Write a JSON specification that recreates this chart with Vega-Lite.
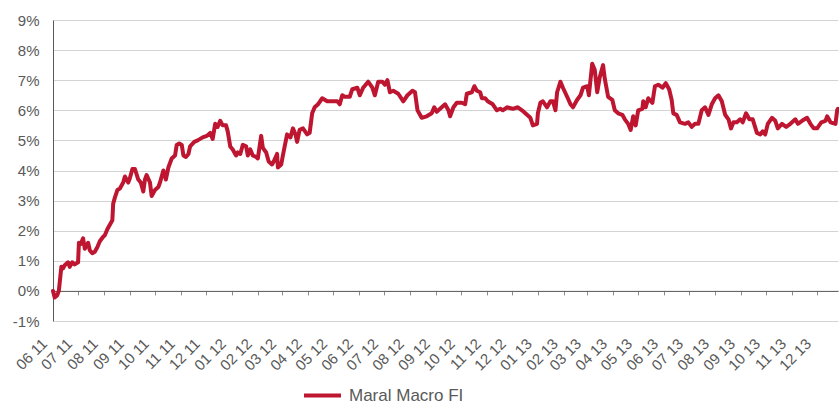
{
  "$schema": "https://vega.github.io/schema/vega-lite/v6.json",
  "autosize": "none",
  "width": 785,
  "height": 301,
  "padding": {"left": 53, "top": 20, "right": 1, "bottom": 82},
  "background": "white",
  "config": {
    "view": {"stroke": null},
    "font": "Liberation Sans"
  },
  "data": {
    "values": [
      {"date": "2011-06-01", "v": 0.0},
      {"date": "2011-06-03", "v": -0.22},
      {"date": "2011-06-06", "v": -0.15},
      {"date": "2011-06-08", "v": 0.0},
      {"date": "2011-06-11", "v": 0.8},
      {"date": "2011-06-13", "v": 0.75},
      {"date": "2011-06-15", "v": 0.85},
      {"date": "2011-06-19", "v": 0.95},
      {"date": "2011-06-21", "v": 0.8},
      {"date": "2011-06-24", "v": 0.95},
      {"date": "2011-06-27", "v": 0.88},
      {"date": "2011-07-01", "v": 0.95},
      {"date": "2011-07-02", "v": 1.6},
      {"date": "2011-07-04", "v": 1.55},
      {"date": "2011-07-07", "v": 1.75},
      {"date": "2011-07-09", "v": 1.4},
      {"date": "2011-07-13", "v": 1.6},
      {"date": "2011-07-15", "v": 1.35},
      {"date": "2011-07-18", "v": 1.25},
      {"date": "2011-07-21", "v": 1.3},
      {"date": "2011-07-24", "v": 1.45},
      {"date": "2011-07-27", "v": 1.65},
      {"date": "2011-07-31", "v": 1.8},
      {"date": "2011-08-02", "v": 1.85},
      {"date": "2011-08-05", "v": 2.05},
      {"date": "2011-08-08", "v": 2.2},
      {"date": "2011-08-11", "v": 2.35},
      {"date": "2011-08-12", "v": 2.9},
      {"date": "2011-08-14", "v": 3.1},
      {"date": "2011-08-17", "v": 3.35},
      {"date": "2011-08-20", "v": 3.4},
      {"date": "2011-08-24", "v": 3.6},
      {"date": "2011-08-26", "v": 3.8},
      {"date": "2011-08-30", "v": 3.6},
      {"date": "2011-09-01", "v": 3.75},
      {"date": "2011-09-04", "v": 4.05},
      {"date": "2011-09-07", "v": 4.05},
      {"date": "2011-09-11", "v": 3.7},
      {"date": "2011-09-14", "v": 3.6},
      {"date": "2011-09-17", "v": 3.3},
      {"date": "2011-09-19", "v": 3.7},
      {"date": "2011-09-21", "v": 3.85},
      {"date": "2011-09-25", "v": 3.6},
      {"date": "2011-09-27", "v": 3.15},
      {"date": "2011-10-01", "v": 3.35},
      {"date": "2011-10-05", "v": 3.45},
      {"date": "2011-10-07", "v": 3.6},
      {"date": "2011-10-11", "v": 4.0},
      {"date": "2011-10-14", "v": 3.7},
      {"date": "2011-10-17", "v": 4.1},
      {"date": "2011-10-21", "v": 4.4},
      {"date": "2011-10-25", "v": 4.5},
      {"date": "2011-10-27", "v": 4.85},
      {"date": "2011-10-30", "v": 4.9},
      {"date": "2011-11-02", "v": 4.85},
      {"date": "2011-11-04", "v": 4.5},
      {"date": "2011-11-07", "v": 4.45},
      {"date": "2011-11-10", "v": 4.55},
      {"date": "2011-11-12", "v": 4.8},
      {"date": "2011-11-17", "v": 4.95},
      {"date": "2011-11-21", "v": 5.0},
      {"date": "2011-11-27", "v": 5.1},
      {"date": "2011-12-02", "v": 5.15},
      {"date": "2011-12-06", "v": 5.25},
      {"date": "2011-12-09", "v": 5.05},
      {"date": "2011-12-12", "v": 5.55},
      {"date": "2011-12-15", "v": 5.45},
      {"date": "2011-12-18", "v": 5.65},
      {"date": "2011-12-21", "v": 5.5},
      {"date": "2011-12-25", "v": 5.5},
      {"date": "2011-12-27", "v": 5.3},
      {"date": "2011-12-30", "v": 4.8},
      {"date": "2012-01-02", "v": 4.7},
      {"date": "2012-01-06", "v": 4.5},
      {"date": "2012-01-08", "v": 4.6},
      {"date": "2012-01-11", "v": 4.55},
      {"date": "2012-01-14", "v": 4.85},
      {"date": "2012-01-18", "v": 4.8},
      {"date": "2012-01-20", "v": 4.5},
      {"date": "2012-01-23", "v": 4.7},
      {"date": "2012-01-26", "v": 4.5},
      {"date": "2012-01-30", "v": 4.45},
      {"date": "2012-02-01", "v": 4.4},
      {"date": "2012-02-05", "v": 5.15},
      {"date": "2012-02-07", "v": 4.75},
      {"date": "2012-02-11", "v": 4.6},
      {"date": "2012-02-14", "v": 4.3},
      {"date": "2012-02-18", "v": 4.2},
      {"date": "2012-02-20", "v": 4.3},
      {"date": "2012-02-24", "v": 4.55},
      {"date": "2012-02-25", "v": 4.1},
      {"date": "2012-02-29", "v": 4.2},
      {"date": "2012-03-02", "v": 4.5},
      {"date": "2012-03-07", "v": 5.2},
      {"date": "2012-03-11", "v": 5.1},
      {"date": "2012-03-14", "v": 5.4},
      {"date": "2012-03-17", "v": 5.2},
      {"date": "2012-03-19", "v": 4.95},
      {"date": "2012-03-22", "v": 5.35},
      {"date": "2012-03-26", "v": 5.4},
      {"date": "2012-03-31", "v": 5.2},
      {"date": "2012-04-03", "v": 5.25},
      {"date": "2012-04-06", "v": 5.9},
      {"date": "2012-04-09", "v": 6.1},
      {"date": "2012-04-13", "v": 6.2},
      {"date": "2012-04-18", "v": 6.4},
      {"date": "2012-04-24", "v": 6.3},
      {"date": "2012-04-30", "v": 6.3},
      {"date": "2012-05-06", "v": 6.3},
      {"date": "2012-05-09", "v": 6.2},
      {"date": "2012-05-12", "v": 6.5},
      {"date": "2012-05-15", "v": 6.45},
      {"date": "2012-05-21", "v": 6.45},
      {"date": "2012-05-24", "v": 6.7},
      {"date": "2012-05-30", "v": 6.75},
      {"date": "2012-06-02", "v": 6.5},
      {"date": "2012-06-06", "v": 6.75},
      {"date": "2012-06-12", "v": 6.95},
      {"date": "2012-06-17", "v": 6.75},
      {"date": "2012-06-20", "v": 6.5},
      {"date": "2012-06-24", "v": 6.95},
      {"date": "2012-06-29", "v": 6.95},
      {"date": "2012-07-02", "v": 6.85},
      {"date": "2012-07-05", "v": 7.0},
      {"date": "2012-07-08", "v": 6.6},
      {"date": "2012-07-12", "v": 6.65},
      {"date": "2012-07-18", "v": 6.55},
      {"date": "2012-07-24", "v": 6.3},
      {"date": "2012-07-29", "v": 6.5},
      {"date": "2012-08-04", "v": 6.65},
      {"date": "2012-08-07", "v": 6.6},
      {"date": "2012-08-10", "v": 6.0},
      {"date": "2012-08-15", "v": 5.75},
      {"date": "2012-08-21", "v": 5.8},
      {"date": "2012-08-27", "v": 5.9},
      {"date": "2012-08-30", "v": 6.1},
      {"date": "2012-09-02", "v": 5.95},
      {"date": "2012-09-06", "v": 6.05},
      {"date": "2012-09-12", "v": 6.2},
      {"date": "2012-09-16", "v": 6.0},
      {"date": "2012-09-18", "v": 5.8},
      {"date": "2012-09-22", "v": 6.1},
      {"date": "2012-09-26", "v": 6.25},
      {"date": "2012-10-02", "v": 6.25},
      {"date": "2012-10-06", "v": 6.2},
      {"date": "2012-10-08", "v": 6.55},
      {"date": "2012-10-14", "v": 6.6},
      {"date": "2012-10-17", "v": 6.8},
      {"date": "2012-10-20", "v": 6.65},
      {"date": "2012-10-24", "v": 6.6},
      {"date": "2012-10-26", "v": 6.4},
      {"date": "2012-10-30", "v": 6.4},
      {"date": "2012-11-02", "v": 6.3},
      {"date": "2012-11-08", "v": 6.2},
      {"date": "2012-11-13", "v": 6.0},
      {"date": "2012-11-17", "v": 6.05},
      {"date": "2012-11-20", "v": 6.0},
      {"date": "2012-11-25", "v": 6.1},
      {"date": "2012-12-02", "v": 6.05},
      {"date": "2012-12-08", "v": 6.1},
      {"date": "2012-12-13", "v": 6.0},
      {"date": "2012-12-19", "v": 5.85},
      {"date": "2012-12-23", "v": 5.75},
      {"date": "2012-12-26", "v": 5.5},
      {"date": "2012-12-31", "v": 5.55},
      {"date": "2013-01-01", "v": 5.9},
      {"date": "2013-01-04", "v": 6.25},
      {"date": "2013-01-07", "v": 6.3},
      {"date": "2013-01-12", "v": 6.1},
      {"date": "2013-01-16", "v": 6.3},
      {"date": "2013-01-19", "v": 6.3},
      {"date": "2013-01-22", "v": 6.0},
      {"date": "2013-01-24", "v": 6.6},
      {"date": "2013-01-28", "v": 6.95},
      {"date": "2013-01-31", "v": 6.75},
      {"date": "2013-02-05", "v": 6.45},
      {"date": "2013-02-09", "v": 6.2},
      {"date": "2013-02-12", "v": 6.1},
      {"date": "2013-02-17", "v": 6.35},
      {"date": "2013-02-21", "v": 6.5},
      {"date": "2013-02-24", "v": 6.75},
      {"date": "2013-03-01", "v": 6.8},
      {"date": "2013-03-03", "v": 6.5},
      {"date": "2013-03-07", "v": 7.55},
      {"date": "2013-03-10", "v": 7.35},
      {"date": "2013-03-13", "v": 6.6},
      {"date": "2013-03-16", "v": 7.1},
      {"date": "2013-03-20", "v": 7.5},
      {"date": "2013-03-22", "v": 7.05},
      {"date": "2013-03-26", "v": 6.45},
      {"date": "2013-03-31", "v": 6.35},
      {"date": "2013-04-03", "v": 6.0},
      {"date": "2013-04-07", "v": 5.9},
      {"date": "2013-04-12", "v": 5.85},
      {"date": "2013-04-15", "v": 5.7},
      {"date": "2013-04-19", "v": 5.55},
      {"date": "2013-04-22", "v": 5.35},
      {"date": "2013-04-25", "v": 5.8},
      {"date": "2013-04-28", "v": 5.5},
      {"date": "2013-05-01", "v": 6.0},
      {"date": "2013-05-06", "v": 6.05},
      {"date": "2013-05-07", "v": 6.3},
      {"date": "2013-05-10", "v": 6.1},
      {"date": "2013-05-13", "v": 6.4},
      {"date": "2013-05-18", "v": 6.25},
      {"date": "2013-05-21", "v": 6.8},
      {"date": "2013-05-25", "v": 6.85},
      {"date": "2013-05-30", "v": 6.75},
      {"date": "2013-06-03", "v": 6.9},
      {"date": "2013-06-07", "v": 6.7},
      {"date": "2013-06-10", "v": 6.35},
      {"date": "2013-06-12", "v": 5.9},
      {"date": "2013-06-16", "v": 5.85},
      {"date": "2013-06-20", "v": 5.6},
      {"date": "2013-06-26", "v": 5.55},
      {"date": "2013-06-30", "v": 5.6},
      {"date": "2013-07-04", "v": 5.45},
      {"date": "2013-07-08", "v": 5.55},
      {"date": "2013-07-12", "v": 5.55},
      {"date": "2013-07-16", "v": 6.0},
      {"date": "2013-07-20", "v": 6.1},
      {"date": "2013-07-24", "v": 5.85},
      {"date": "2013-07-28", "v": 6.2},
      {"date": "2013-08-01", "v": 6.4},
      {"date": "2013-08-05", "v": 6.5},
      {"date": "2013-08-09", "v": 6.3},
      {"date": "2013-08-13", "v": 5.85},
      {"date": "2013-08-17", "v": 5.7},
      {"date": "2013-08-20", "v": 5.4},
      {"date": "2013-08-23", "v": 5.6},
      {"date": "2013-08-27", "v": 5.6},
      {"date": "2013-08-31", "v": 5.7},
      {"date": "2013-09-03", "v": 5.6},
      {"date": "2013-09-07", "v": 5.9},
      {"date": "2013-09-11", "v": 5.7},
      {"date": "2013-09-15", "v": 5.7},
      {"date": "2013-09-20", "v": 5.25},
      {"date": "2013-09-24", "v": 5.2},
      {"date": "2013-09-27", "v": 5.3},
      {"date": "2013-09-30", "v": 5.2},
      {"date": "2013-10-03", "v": 5.55},
      {"date": "2013-10-08", "v": 5.75},
      {"date": "2013-10-12", "v": 5.65},
      {"date": "2013-10-15", "v": 5.4},
      {"date": "2013-10-20", "v": 5.55},
      {"date": "2013-10-25", "v": 5.45},
      {"date": "2013-10-30", "v": 5.55},
      {"date": "2013-11-05", "v": 5.7},
      {"date": "2013-11-08", "v": 5.55},
      {"date": "2013-11-13", "v": 5.65},
      {"date": "2013-11-19", "v": 5.75},
      {"date": "2013-11-23", "v": 5.55},
      {"date": "2013-11-27", "v": 5.4},
      {"date": "2013-12-01", "v": 5.4},
      {"date": "2013-12-06", "v": 5.6},
      {"date": "2013-12-11", "v": 5.65},
      {"date": "2013-12-13", "v": 5.8},
      {"date": "2013-12-17", "v": 5.6},
      {"date": "2013-12-23", "v": 5.55},
      {"date": "2013-12-25", "v": 6.0},
      {"date": "2013-12-26", "v": 6.05}
    ]
  },
  "mark": {"type": "line", "strokeWidth": 4, "strokeJoin": "round", "strokeCap": "round"},
  "encoding": {
    "x": {
      "field": "date",
      "type": "temporal",
      "title": null,
      "scale": {
        "type": "utc",
        "domain": [
          {"year": 2011, "month": 6, "date": 1, "utc": true},
          {"year": 2013, "month": 12, "date": 26, "utc": true}
        ],
        "nice": false
      },
      "axis": {
        "format": "%m %y",
        "tickCount": {"interval": "month", "step": 1},
        "grid": false,
        "offset": -30.1,
        "domainColor": "#595959",
        "domainWidth": 1,
        "tickColor": "#8c8c8c",
        "tickSize": 4,
        "labelAngle": -45,
        "labelAlign": "right",
        "labelBaseline": "middle",
        "labelPadding": 46,
        "labelOffset": -9,
        "labelFontSize": 15,
        "labelColor": "#595959",
        "labelFont": "Liberation Sans",
        "labelOverlap": false,
        "labelFlush": false
      }
    },
    "y": {
      "field": "v",
      "type": "quantitative",
      "title": null,
      "scale": {"domain": [-1, 9], "nice": false, "zero": false},
      "axis": {
        "values": [-1, 0, 1, 2, 3, 4, 5, 6, 7, 8, 9],
        "labelExpr": "datum.value + '%'",
        "grid": true,
        "gridColor": "#d4d4d4",
        "gridWidth": 1,
        "domainColor": "#595959",
        "domainWidth": 1,
        "ticks": false,
        "labelPadding": 14,
        "labelFontSize": 15,
        "labelColor": "#595959",
        "labelFont": "Liberation Sans"
      }
    },
    "color": {
      "datum": "Maral Macro FI",
      "type": "nominal",
      "scale": {"range": ["#be1531"]},
      "legend": {
        "title": null,
        "orient": "none",
        "legendX": 249,
        "legendY": 355,
        "symbolType": "stroke",
        "symbolSize": 1369,
        "symbolStrokeWidth": 4,
        "labelFontSize": 17,
        "labelColor": "#595959",
        "labelFont": "Liberation Sans",
        "labelOffset": 6
      }
    }
  }
}
